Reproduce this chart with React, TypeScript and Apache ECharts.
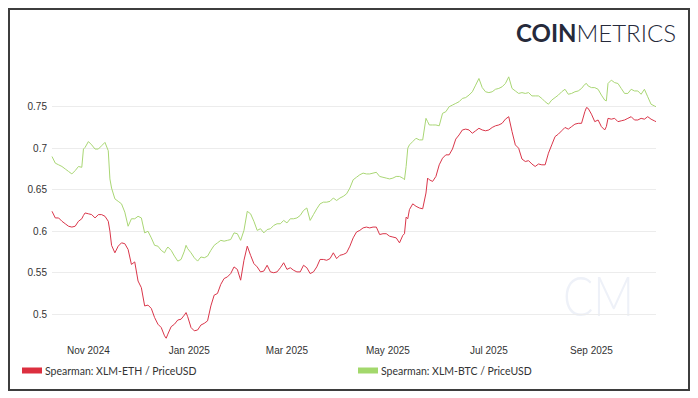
import React, { useEffect, useRef } from 'react';
import * as echarts from 'echarts';

const START_UTC = Date.UTC(2024, 9, 10);
const DAY_MS = 86400000;

const dayOffsets = [
  0, 2, 4, 6, 8, 10, 12, 14, 16, 18,
  19, 20, 22, 24, 26, 28, 30, 32, 34, 35,
  36, 38, 40, 42, 44, 46, 48, 50, 52, 54,
  56, 58, 60, 62, 64, 66, 68, 69, 70, 72,
  74, 76, 78, 80, 81, 82, 84, 86, 88, 90,
  92, 94, 96, 98, 100, 102, 104, 106, 108, 110,
  112, 114, 116, 118, 120, 122, 124, 126, 128, 130,
  132, 134, 136, 138, 140, 142, 144, 146, 148, 150,
  152, 154, 156, 158, 160, 162, 164, 166, 168, 170,
  172, 174, 176, 178, 180, 182, 184, 186, 188, 190,
  192, 194, 196, 198, 200, 202, 204, 206, 208, 210,
  212, 213, 214, 215, 216, 218, 220, 222, 224, 226,
  227, 228, 230, 232, 234, 236, 238, 240, 242, 244,
  246, 248, 250, 252, 254, 256, 258, 260, 262, 264,
  266, 268, 270, 272, 274, 276, 278, 280, 282, 284,
  286, 288, 290, 292, 294, 296, 298, 300, 302, 304,
  306, 308, 310, 312, 314, 316, 318, 320, 322, 323,
  324, 326, 328, 330, 332, 334, 335, 336, 338, 340,
  342, 344, 346, 348, 350, 352, 354, 356, 358, 360,
  362, 364, 365,
];

const ethValues = [
  0.624, 0.616, 0.616, 0.612, 0.609, 0.606, 0.605, 0.606, 0.612, 0.615,
  0.619, 0.622, 0.621, 0.620, 0.616, 0.620, 0.620, 0.618, 0.612, 0.600,
  0.583, 0.574, 0.582, 0.586, 0.585, 0.578, 0.560, 0.563, 0.540, 0.532,
  0.510, 0.511, 0.507, 0.496, 0.488, 0.484, 0.474, 0.471, 0.476, 0.485,
  0.488, 0.493, 0.494, 0.499, 0.502, 0.497, 0.484, 0.480, 0.481, 0.487,
  0.489, 0.492, 0.510, 0.523, 0.525, 0.536, 0.543, 0.545, 0.549, 0.557,
  0.554, 0.541, 0.565, 0.582, 0.571, 0.561, 0.557, 0.551, 0.552, 0.559,
  0.551, 0.550, 0.551, 0.556, 0.562, 0.554, 0.556, 0.553, 0.551, 0.551,
  0.559, 0.556, 0.549, 0.551, 0.557, 0.566, 0.566, 0.565, 0.567, 0.574,
  0.567, 0.571, 0.572, 0.574, 0.582, 0.592, 0.599, 0.601, 0.604, 0.605,
  0.604, 0.605, 0.605, 0.596, 0.597, 0.597, 0.594, 0.593, 0.592, 0.586,
  0.595, 0.597, 0.617, 0.615, 0.626, 0.633, 0.630, 0.628, 0.627, 0.646,
  0.664, 0.662, 0.660, 0.666, 0.680, 0.688, 0.692, 0.692, 0.699, 0.711,
  0.716, 0.722, 0.723, 0.722, 0.718, 0.721, 0.724, 0.722, 0.721, 0.722,
  0.725, 0.727, 0.728, 0.730, 0.735, 0.738, 0.720, 0.704, 0.700, 0.687,
  0.684, 0.685, 0.681, 0.678, 0.681, 0.680, 0.680, 0.694, 0.704, 0.714,
  0.717, 0.721, 0.725, 0.723, 0.726, 0.729, 0.730, 0.730, 0.744, 0.749,
  0.748, 0.741, 0.732, 0.734, 0.726, 0.722, 0.726, 0.736, 0.735, 0.736,
  0.732, 0.733, 0.734, 0.736, 0.738, 0.734, 0.734, 0.736, 0.735, 0.738,
  0.735, 0.733, 0.732,
];

const btcValues = [
  0.690, 0.682, 0.680, 0.678, 0.675, 0.672, 0.669, 0.673, 0.678, 0.677,
  0.699, 0.701, 0.708, 0.704, 0.699, 0.699, 0.703, 0.707, 0.697, 0.663,
  0.652, 0.639, 0.636, 0.633, 0.623, 0.606, 0.615, 0.615, 0.618, 0.616,
  0.598, 0.600, 0.592, 0.583, 0.582, 0.577, 0.574, 0.578, 0.581, 0.577,
  0.570, 0.564, 0.566, 0.576, 0.583, 0.579, 0.574, 0.568, 0.564, 0.569,
  0.568, 0.570, 0.577, 0.583, 0.586, 0.589, 0.588, 0.589, 0.590, 0.598,
  0.597, 0.589, 0.601, 0.624, 0.621, 0.612, 0.601, 0.603, 0.598, 0.602,
  0.603, 0.607, 0.609, 0.609, 0.613, 0.610, 0.615, 0.615, 0.616, 0.619,
  0.625, 0.628, 0.613, 0.620, 0.627, 0.633, 0.635, 0.635, 0.636, 0.640,
  0.637, 0.640, 0.642, 0.645, 0.652, 0.662, 0.665, 0.668, 0.670, 0.669,
  0.669, 0.670, 0.671, 0.666, 0.665, 0.664, 0.663, 0.664, 0.666, 0.666,
  0.664, 0.662, 0.678, 0.700, 0.704, 0.708, 0.712, 0.710, 0.710, 0.736,
  0.732, 0.728, 0.728, 0.728, 0.727, 0.742, 0.744, 0.750, 0.752, 0.754,
  0.756, 0.760, 0.761, 0.764, 0.768, 0.776, 0.784, 0.773, 0.768, 0.767,
  0.768, 0.771, 0.772, 0.774, 0.778, 0.786, 0.772, 0.769, 0.766, 0.767,
  0.766, 0.767, 0.763, 0.763, 0.763, 0.760, 0.756, 0.753, 0.758, 0.761,
  0.764, 0.768, 0.771, 0.765, 0.766, 0.768, 0.769, 0.772, 0.777, 0.778,
  0.775, 0.773, 0.773, 0.771, 0.764, 0.758, 0.757, 0.778, 0.782, 0.779,
  0.778, 0.772, 0.766, 0.766, 0.771, 0.769, 0.769, 0.765, 0.771, 0.762,
  0.753, 0.751, 0.750,
];

const yTickValues = [0.5, 0.55, 0.6, 0.65, 0.7, 0.75];
const xTickDates = ['2024-11-01', '2025-01-01', '2025-03-01', '2025-05-01', '2025-07-01', '2025-09-01'];
const MONTHS = ['Jan', 'Feb', 'Mar', 'Apr', 'May', 'Jun', 'Jul', 'Aug', 'Sep', 'Oct', 'Nov', 'Dec'];
const SERIES_ETH = 'Spearman: XLM-ETH / PriceUSD';
const SERIES_BTC = 'Spearman: XLM-BTC / PriceUSD';

export default function App() {
  const ref = useRef<HTMLDivElement>(null);

  useEffect(() => {
    if (!ref.current) return;
    const chart = echarts.init(ref.current, null, { renderer: 'svg' });
    const toTime = (d: number) => START_UTC + d * DAY_MS;
    const ethData = dayOffsets.map((d, i) => [toTime(d), ethValues[i]]);
    const btcData = dayOffsets.map((d, i) => [toTime(d), btcValues[i]]);
    const xTicks = xTickDates.map((s) => new Date(s + 'T00:00:00Z').getTime());

    const legendBase = {
      top: 355,
      padding: 0,
      icon: 'rect',
      itemWidth: 20,
      itemHeight: 6,
      itemGap: 4,
      textStyle: {
        fontFamily: 'Lato, sans-serif',
        fontSize: 10.5,
        color: '#333',
        padding: [0, 0, 0, -2],
      },
    };

    chart.setOption({
      animation: false,
      grid: { left: 42, right: 32, top: 66, bottom: 50.7, outerBoundsMode: 'none' },
      xAxis: {
        type: 'value',
        min: toTime(dayOffsets[0]),
        max: toTime(dayOffsets[dayOffsets.length - 1]),
        axisLine: { show: false },
        axisTick: { show: false, customValues: xTicks },
        splitLine: { show: false },
        axisLabel: {
          customValues: xTicks,
          margin: 7,
          color: '#333',
          fontSize: 10,
          fontFamily: 'Liberation Sans, Arial, sans-serif',
          formatter: (v: number) => {
            const dt = new Date(v);
            return MONTHS[dt.getUTCMonth()] + ' ' + dt.getUTCFullYear();
          },
        },
      },
      yAxis: {
        type: 'value',
        min: 0.471,
        max: 0.787,
        axisLine: { show: false },
        axisTick: { show: false, customValues: yTickValues },
        splitLine: { show: true, lineStyle: { color: '#ececec', width: 1 } },
        axisLabel: {
          customValues: yTickValues,
          margin: 5,
          color: '#333',
          fontSize: 10,
          fontFamily: 'Liberation Sans, Arial, sans-serif',
          formatter: (v: number) => String(Number(v.toFixed(2))),
        },
      },
      legend: [
        { ...legendBase, data: [SERIES_ETH], left: 12 },
        { ...legendBase, data: [SERIES_BTC], left: 348 },
      ],
      graphic: [
        {
          type: 'text',
          right: 12,
          top: 10,
          style: {
            text: '{a|COIN}{b|METRICS}',
            rich: {
              a: { fontFamily: 'Lato, sans-serif', fontWeight: 'bold', fontSize: 24, fill: '#262a3b' },
              b: { fontFamily: 'Lato, sans-serif', fontWeight: 300, fontSize: 24, fill: '#262a3b' },
            },
          },
        },
        {
          type: 'text',
          left: 553,
          top: 256,
          scaleX: 0.8,
          z: -10,
          silent: true,
          style: {
            text: 'CM',
            fontFamily: 'Lato, sans-serif',
            fontWeight: 300,
            fontSize: 56,
            fill: '#eef1f8',
          },
        },
      ],
      series: [
        {
          name: SERIES_ETH,
          type: 'line',
          data: ethData,
          showSymbol: false,
          symbol: 'none',
          color: '#dc2f3f',
          lineStyle: { width: 1, color: '#d9364a' },
          z: 3,
        },
        {
          name: SERIES_BTC,
          type: 'line',
          data: btcData,
          showSymbol: false,
          symbol: 'none',
          color: '#a3d86c',
          lineStyle: { width: 1, color: '#a9d674' },
          z: 2,
        },
      ],
    });
    return () => chart.dispose();
  }, []);

  return (
    <div style={{ width: 682, height: 383, border: '2px solid #3d3d3d', boxSizing: 'border-box' }}>
      <div ref={ref} style={{ width: 678, height: 379 }} />
    </div>
  );
}
